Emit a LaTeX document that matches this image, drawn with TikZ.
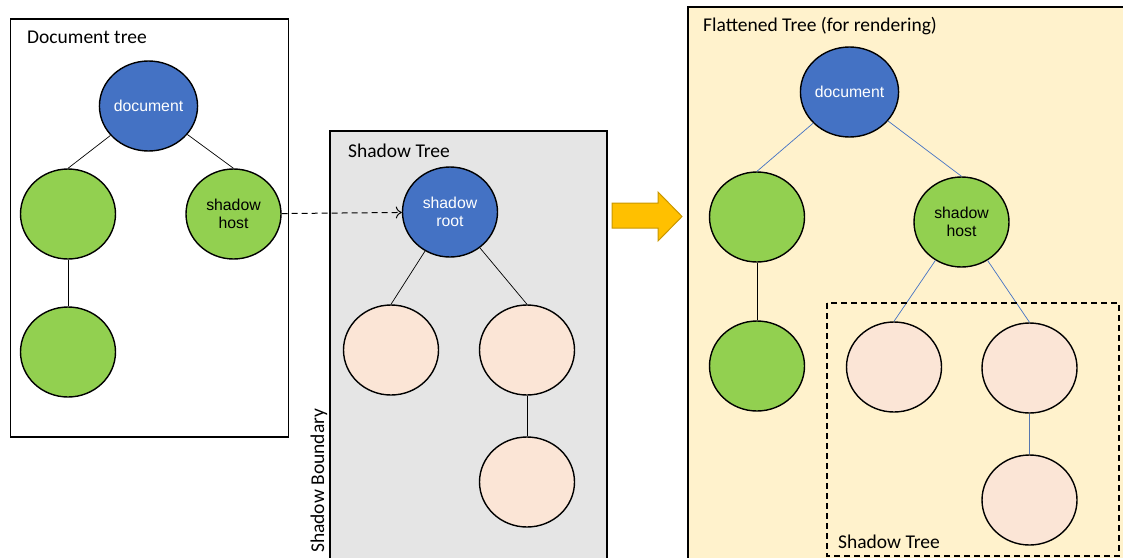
\documentclass[tikz,border=0pt]{standalone}
\usepackage{fontspec}
\setmainfont{Carlito}
\newfontfamily\nodefont{Liberation Sans}
\usetikzlibrary{shapes.geometric,arrows.meta}
\definecolor{docblue}{HTML}{4472C4}
\definecolor{hostgreen}{HTML}{92D050}
\definecolor{shpink}{HTML}{FBE5D6}
\definecolor{shgray}{HTML}{E5E5E5}
\definecolor{flatyellow}{HTML}{FFF2CC}
\definecolor{arrowfill}{HTML}{FFC000}
\definecolor{arrowline}{HTML}{C99700}
\tikzset{
  treenode/.style={ellipse, draw=black, line width=1.4pt, minimum width=95pt,
    minimum height=90pt, inner sep=0pt, align=center,
    font=\nodefont\fontsize{15.8}{18.5}\selectfont},
  bluenode/.style={treenode, fill=docblue, text=white},
  greennode/.style={treenode, fill=hostgreen, text=black},
  pinknode/.style={treenode, fill=shpink},
  panel/.style={draw=black, line width=1.2pt},
  paneltitle/.style={anchor=base west, inner sep=0pt, font=\fontsize{19.5}{23}\selectfont},
  edge/.style={draw=black, line width=0.7pt},
  flatedge/.style={draw=docblue, line width=0.7pt},
}
\begin{document}
\begin{tikzpicture}[x=1pt,y=-1pt]
\useasboundingbox (0,0) rectangle (1123,557);

% panels
\draw[panel, fill=white] (10.5,19) rectangle (288.5,437);
\draw[panel, fill=shgray] (330,131) rectangle (607,560);
\draw[panel, fill=flatyellow] (688,7) rectangle (1126,560);

\node[paneltitle] (tdoc) at (27,43) {Document tree};
\node[paneltitle] (tsh) at (348,157) {Shadow Tree};
\node[paneltitle] (tflat) at (703,31) {Flattened Tree (for rendering)};
\node[paneltitle, rotate=90] (tbound) at (324,553) {Shadow Boundary};

% document tree
\node[bluenode] (d) at (148.5,106) {document};
\node[greennode] (dl) at (68,214) {};
\node[greennode] (dh) at (233.5,214) {shadow\\host};
\node[greennode] (dll) at (68,352) {};
\draw[edge] (d) -- (dl.north);
\draw[edge] (d) -- (dh.north);
\draw[edge] (dl) -- (dll);

% shadow tree
\node[bluenode] (sr) at (450,212) {shadow\\root};
\node[pinknode] (sa) at (391,350) {};
\node[pinknode] (sb) at (527,350) {};
\node[pinknode] (sc) at (527,482) {};
\draw[edge] (sr) -- (sa.north);
\draw[edge] (sr) -- (sb.north);
\draw[edge] (sb) -- (sc);

% host to root
\draw[line width=1pt, dash pattern=on 6pt off 4pt, -{To[length=6pt,width=12pt]}] (dh) -- (sr);

% flattening arrow
\path[fill=arrowfill, draw=arrowline, line width=1pt, line join=miter]
  (612,203) -- (658,203) -- (658,192) -- (682,216.5) -- (658,241) -- (658,228) -- (612,228) -- cycle;

% flattened tree
\node[bluenode] (fd) at (849.5,92) {document};
\node[greennode] (fl) at (757,217) {};
\node[greennode] (fh) at (961.5,222) {shadow\\host};
\node[greennode] (fll) at (757,366) {};
\node[pinknode] (fa) at (894,367) {};
\node[pinknode] (fb) at (1029.5,368) {};
\node[pinknode] (fc) at (1029.5,500) {};
\draw[flatedge] (fd) -- (fl.north);
\draw[flatedge] (fd) -- (fh.north);
\draw[edge] (fl) -- (fll);
\draw[flatedge] (fh) -- (fa.north);
\draw[flatedge] (fh) -- (fb.north);
\draw[flatedge, draw=docblue!70!gray] (fb) -- (fc);

% shadow region inside the flattened tree
\draw[line width=1.2pt, dash pattern=on 6pt off 4pt] (827,303) rectangle (1119,556);
\node[paneltitle] (tsh2) at (838,548) {Shadow Tree};
\end{tikzpicture}
\end{document}
